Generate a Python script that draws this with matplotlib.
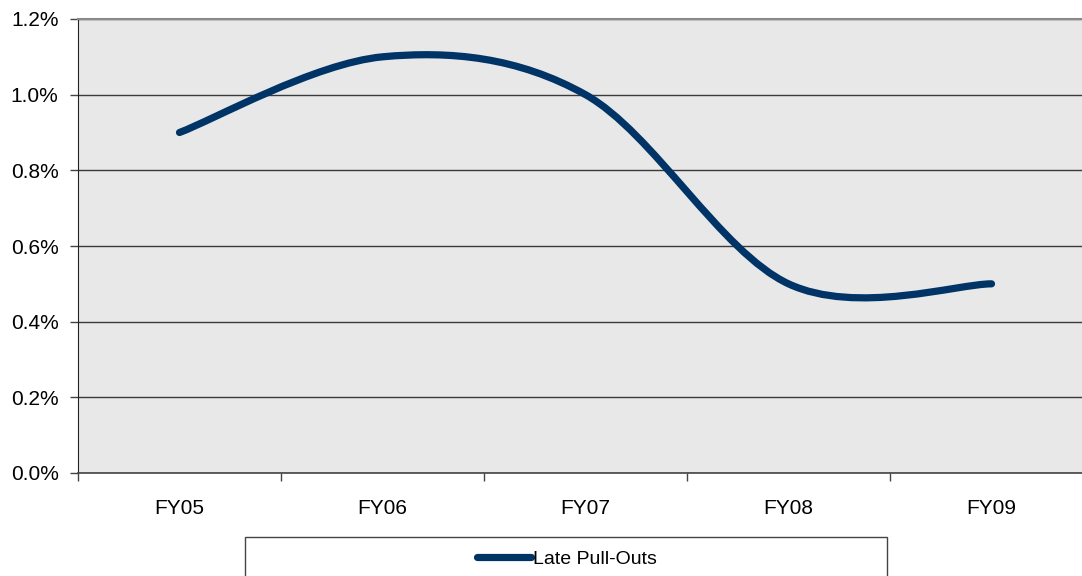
import numpy as np
import matplotlib.pyplot as plt
from matplotlib.path import Path
from matplotlib.patches import PathPatch, Rectangle
from matplotlib.lines import Line2D
from matplotlib.ticker import FuncFormatter

plt.rcParams['font.family'] = ['Liberation Sans', 'DejaVu Sans']

years = ['FY05', 'FY06', 'FY07', 'FY08', 'FY09']
late_pull_outs = [0.9, 1.1, 1.0, 0.5, 0.5]   # percent

navy = '#003466'


def smooth_path(xs, ys):
    # cubic Bezier segments through every point, tangents from neighbours
    pts = np.column_stack([xs, ys]).astype(float)
    n = len(pts)
    verts = [pts[0]]
    codes = [Path.MOVETO]
    for i in range(n - 1):
        p_prev = pts[max(i - 1, 0)]
        p0 = pts[i]
        p1 = pts[i + 1]
        p_next = pts[min(i + 2, n - 1)]
        c1 = p0 + (p1 - p_prev) / 6.0
        c2 = p1 - (p_next - p0) / 6.0
        verts += [c1, c2, p1]
        codes += [Path.CURVE4] * 3
    return Path(verts, codes)


fig = plt.figure(figsize=(10.82, 5.76), dpi=100)
ax = fig.add_axes([78 / 1082, 103 / 576, 1015 / 1082, 454 / 576])
ax.set_facecolor('#e8e8e8')

x = np.arange(len(years))
curve = PathPatch(smooth_path(x, late_pull_outs), facecolor='none',
                  edgecolor=navy, lw=5.2, capstyle='round', zorder=3)
ax.add_patch(curve)

ax.set_xlim(-0.5, len(years) - 0.5)
ax.set_ylim(0, 1.2)
ax.set_yticks(np.arange(0, 1.21, 0.2))
ax.yaxis.set_major_formatter(FuncFormatter(lambda v, p: f'{v:.1f}%'))
ax.yaxis.grid(True, color='#3a3a3a', lw=1)
ax.set_axisbelow(True)

ax.set_xticks(x)
ax.set_xticklabels(years)
ax.set_xticks(np.arange(-0.5, len(years), 1.0), minor=True)
ax.tick_params(axis='x', which='major', length=0, pad=19, labelsize=15)
ax.tick_params(axis='x', which='minor', length=6, width=1, color='#444444')
ax.tick_params(axis='y', length=6, width=1, pad=8, labelsize=15, color='#444444')

ax.spines['right'].set_visible(False)
ax.spines['top'].set_color('#8a8a8a')
ax.spines['top'].set_linewidth(1.5)
ax.spines['left'].set_color('#222222')
ax.spines['bottom'].set_color('#444444')
ax.spines['bottom'].set_linewidth(1.2)

# legend box along the bottom
box = Rectangle((245 / 1082, -0.05), 642 / 1082, 0.05 + 39 / 576,
                transform=fig.transFigure, facecolor='white',
                edgecolor='#444444', lw=1)
fig.add_artist(box)
handle = Line2D([], [], color=navy, lw=5.2, solid_capstyle='round')
fig.legend([handle], ['Late Pull-Outs'], loc='center left',
           bbox_to_anchor=(477 / 1082, 1 - 559 / 576), frameon=False,
           fontsize=14, handlelength=2.8, handletextpad=0.1,
           borderpad=0, borderaxespad=0)

fig.savefig('out.png', dpi=100)
